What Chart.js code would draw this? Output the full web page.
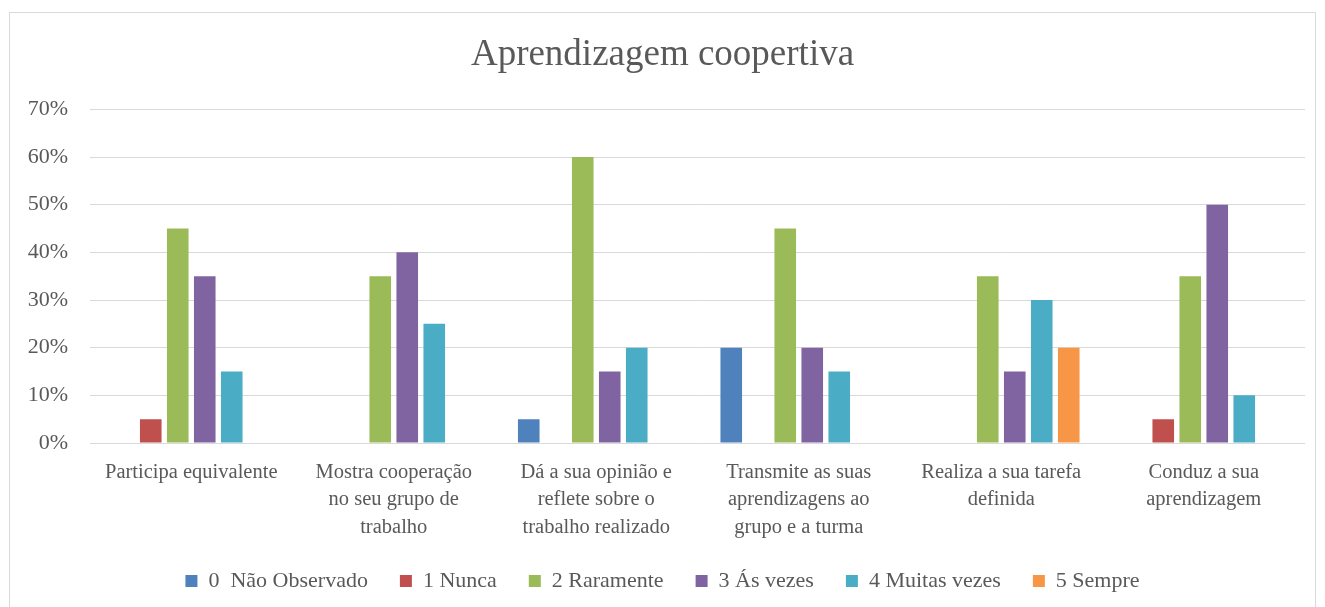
<!DOCTYPE html>
<html>
<head>
<meta charset="utf-8">
<script src="https://cdn.jsdelivr.net/npm/chart.js@4"></script>
<style>
  body { margin: 0; background: #fff; }
  #box {
    position: absolute; left: 9px; top: 12px;
    width: 1307px; height: 600px;
    border: 1px solid #d9d9d9; box-sizing: border-box;
  }
  #myChart { display: block; }
</style>
</head>
<body>
<div id="box"><canvas id="myChart" width="1305" height="595"></canvas></div>
<script>
var categories = [
    'Participa equivalente',
    ['Mostra cooperação', 'no seu grupo de', 'trabalho'],
    ['Dá a sua opinião e', 'reflete sobre o', 'trabalho realizado'],
    ['Transmite as suas', 'aprendizagens ao', 'grupo e a turma'],
    ['Realiza a sua tarefa', 'definida'],
    ['Conduz a sua', 'aprendizagem']
];
var seriesNames = ['0  Não Observado', '1 Nunca', '2 Raramente', '3 Ás vezes', '4 Muitas vezes', '5 Sempre'];
var naoObservado = [0, 0, 5, 20, 0, 0];
var nunca        = [5, 0, 0, 0, 0, 5];
var raramente    = [45, 35, 60, 45, 35, 35];
var asVezes      = [35, 40, 15, 20, 15, 50];
var muitasVezes  = [15, 25, 20, 15, 30, 10];
var sempre       = [0, 0, 0, 0, 20, 0];
var yTicks = [0, 10, 20, 30, 40, 50, 60, 70];

var colors = ['#4F81BD', '#C0504D', '#9BBB59', '#8064A2', '#4BACC6', '#F79646'];
var values = [naoObservado, nunca, raramente, asVezes, muitasVezes, sempre];
var fontFam = '"Liberation Serif", "Times New Roman", serif';
var textColor = '#595959';

document.addEventListener('DOMContentLoaded', function() {
    var ctx = document.getElementById('myChart').getContext('2d');

    var datasets = seriesNames.map(function(name, i) {
        return {
            label: name,
            data: values[i],
            backgroundColor: colors[i],
            borderWidth: 0,
            categoryPercentage: 0.8,
            barPercentage: 0.8
        };
    });

    new Chart(ctx, {
        type: 'bar',
        data: { labels: categories, datasets: datasets },
        options: {
            responsive: false,
            animation: false,
            layout: { padding: { left: 10, right: 10, top: 0, bottom: 6 } },
            plugins: {
                title: {
                    display: true,
                    text: 'Aprendizagem coopertiva',
                    color: textColor,
                    font: { family: fontFam, size: 37, weight: 'normal' },
                    padding: { top: 20, bottom: 32 }
                },
                legend: {
                    position: 'bottom',
                    labels: {
                        color: textColor,
                        font: { family: fontFam, size: 22 },
                        boxWidth: 12,
                        boxHeight: 12,
                        padding: 32
                    }
                },
                tooltip: { enabled: false }
            },
            scales: {
                x: {
                    grid: { display: false },
                    border: { display: false },
                    ticks: {
                        color: textColor,
                        font: { family: fontFam, size: 20.5, lineHeight: 1.33 },
                        maxRotation: 0,
                        autoSkip: false,
                        padding: 8
                    },
                    afterFit: function(scale) { scale.height = 95; }
                },
                y: {
                    min: 0,
                    max: 70,
                    grid: { color: '#d9d9d9', lineWidth: 1, drawTicks: false },
                    border: { display: false },
                    afterBuildTicks: function(scale) {
                        scale.ticks = yTicks.map(function(v) { return { value: v }; });
                    },
                    ticks: {
                        color: textColor,
                        font: { family: fontFam, size: 22 },
                        padding: 22,
                        callback: function(value) { return value + '%'; }
                    },
                    afterFit: function(scale) { scale.width = 70; }
                }
            }
        }
    });
});
</script>
</body>
</html>
